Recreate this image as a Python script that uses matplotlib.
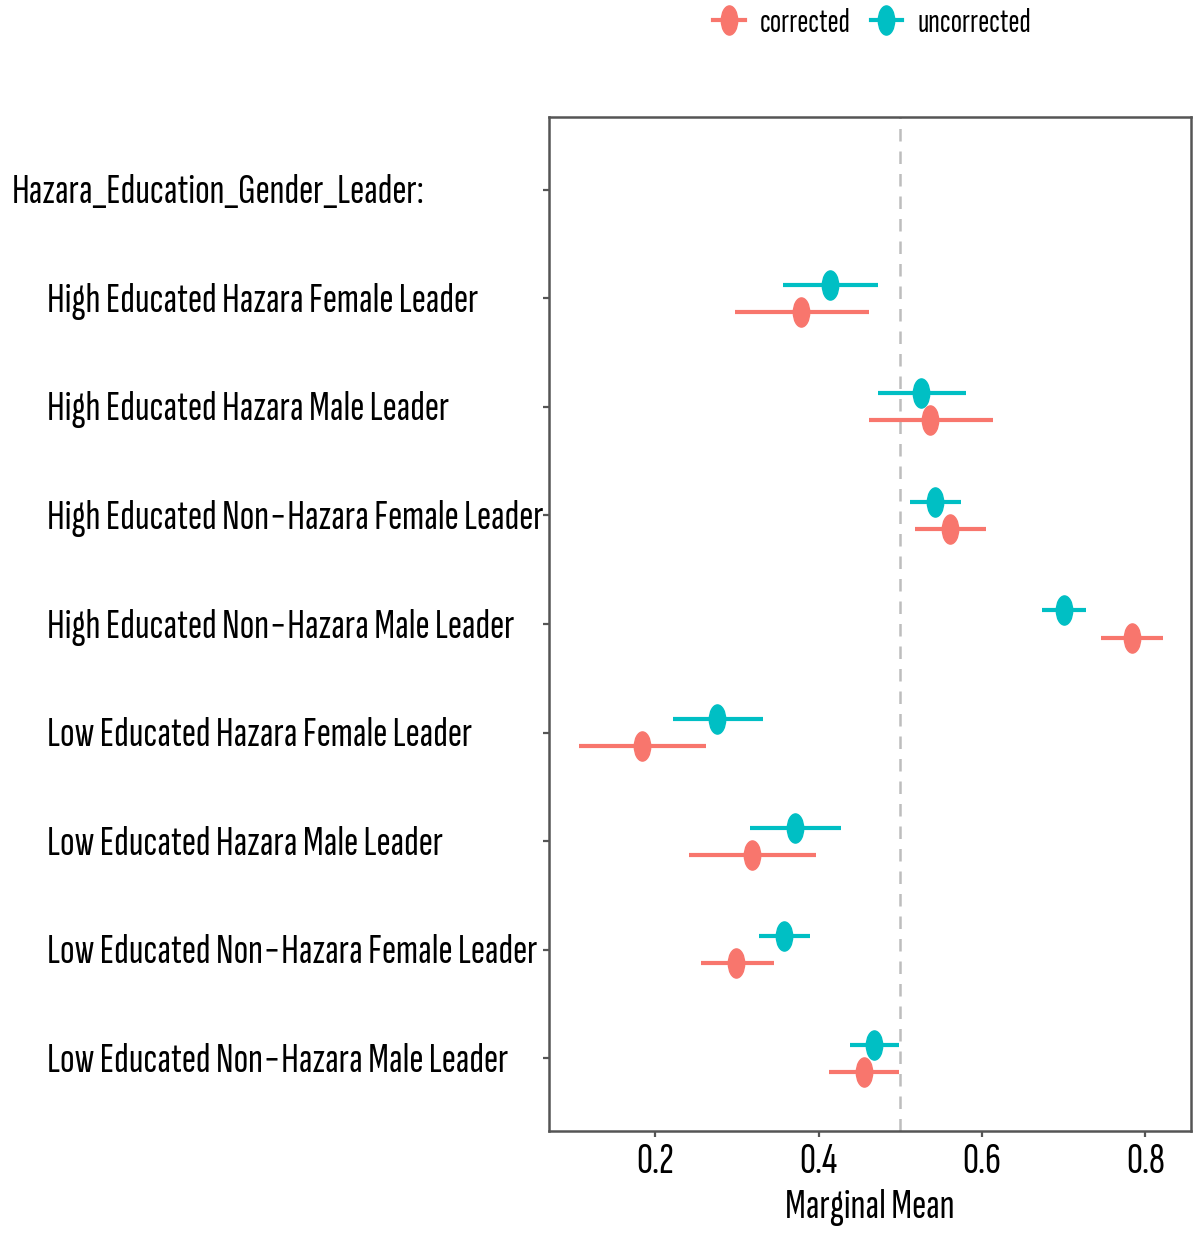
import numpy as np
import matplotlib.pyplot as plt
from matplotlib.path import Path
from matplotlib.lines import Line2D
from matplotlib import transforms

plt.rcParams['font.family'] = ['Sofia Sans Extra Condensed', 'DejaVu Sans']

# Данные
header = 'Hazara_Education_Gender_Leader:'
levels = [
    'High Educated Hazara Female Leader',
    'High Educated Hazara Male Leader',
    'High Educated Non\u2212Hazara Female Leader',
    'High Educated Non\u2212Hazara Male Leader',
    'Low Educated Hazara Female Leader',
    'Low Educated Hazara Male Leader',
    'Low Educated Non\u2212Hazara Female Leader',
    'Low Educated Non\u2212Hazara Male Leader',
]
corr_est = [0.379, 0.537, 0.561, 0.784, 0.184, 0.319, 0.299, 0.456]
corr_lo = [0.298, 0.462, 0.518, 0.746, 0.107, 0.242, 0.256, 0.413]
corr_hi = [0.462, 0.614, 0.605, 0.822, 0.262, 0.397, 0.345, 0.499]
unc_est = [0.414, 0.526, 0.543, 0.700, 0.276, 0.371, 0.358, 0.468]
unc_lo = [0.357, 0.473, 0.512, 0.674, 0.222, 0.316, 0.327, 0.439]
unc_hi = [0.473, 0.581, 0.575, 0.728, 0.332, 0.428, 0.390, 0.499]
x_ticks = [0.2, 0.4, 0.6, 0.8]

c_corr = '#F8766D'
c_unc = '#00BFC4'

# Эллиптический маркер
circ = Path.unit_circle()
ell = Path(circ.vertices * np.array([0.56, 1.0]), circ.codes)

W, H = 1197, 1234
fig = plt.figure(figsize=(W / 100, H / 100), dpi=100)
ax = fig.add_axes([549 / W, 1 - 1131 / H, (1191 - 549) / W, (1131 - 117) / H])

y = np.arange(1, len(levels) + 1)
dodge = 0.125

for est, lo, hi, col, off in [(unc_est, unc_lo, unc_hi, c_unc, -dodge),
                              (corr_est, corr_lo, corr_hi, c_corr, dodge)]:
    yy = y + off
    ax.hlines(yy, lo, hi, color=col, lw=3)
    ax.plot(est, yy, ls='none', marker=ell, ms=21, color=col, mec=col)

ax.axvline(0.5, color='#bdbdbd', ls=(0, (5, 4)), lw=1.8, zorder=0)

ax.set_xlim(0.070, 0.856)
ax.set_ylim(len(levels) + 0.67, -0.67)
ax.set_xticks(x_ticks)
ax.set_xticklabels([str(t) for t in x_ticks], fontsize=32)
ax.set_yticks(np.arange(0, len(levels) + 1))
ax.set_yticklabels([])
ax.tick_params(axis='both', color='#555555', length=4, width=1.6)
ax.tick_params(axis='x', pad=4)
for s in ax.spines.values():
    s.set_color('#555555')
    s.set_linewidth(1.8)

ax.set_xlabel('Marginal Mean', fontsize=31, labelpad=6)

# Подписи категорий (выровнены влево)
tr = transforms.blended_transform_factory(fig.transFigure, ax.transData)
tr = tr + transforms.ScaledTranslation(0, -3 / 100, fig.dpi_scale_trans)
ax.text(12 / W, 0, header, transform=tr, ha='left', va='center', fontsize=31)
for yi, lab in zip(y, levels):
    ax.text(47 / W, yi, lab, transform=tr, ha='left', va='center', fontsize=31)

# Легенда
handles = [Line2D([], [], color=c_corr, lw=3, marker=ell, ms=21),
           Line2D([], [], color=c_unc, lw=3, marker=ell, ms=21)]
fig.legend(handles, ['corrected', 'uncorrected'], loc='center',
           bbox_to_anchor=(872 / W, 1 - 23 / H), ncol=2, frameon=False,
           fontsize=24, handlelength=0.95, columnspacing=0.6, handletextpad=0.45)

fig.savefig('out.png', dpi=100)
